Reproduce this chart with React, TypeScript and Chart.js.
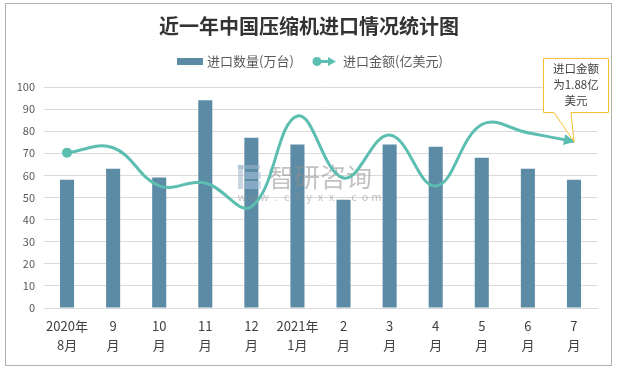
import React, { useEffect, useRef } from 'react';
import { Chart, registerables } from 'chart.js';

Chart.register(...registerables);

const titleText = '近一年中国压缩机进口情况统计图';
const seriesNames = ['进口数量(万台)', '进口金额(亿美元)'];
const categories: string[][] = [
  ['2020年', '8月'], ['9', '月'], ['10', '月'], ['11', '月'], ['12', '月'], ['2021年', '1月'],
  ['2', '月'], ['3', '月'], ['4', '月'], ['5', '月'], ['6', '月'], ['7', '月'],
];
const importQty = [58, 63, 59, 94, 77, 74, 49, 74, 73, 68, 63, 58];
const importValue = [70.3, 72.5, 55.3, 56.6, 45.8, 86.9, 58.8, 78.3, 55.2, 83, 79.3, 75.3];
const calloutLines = ['进口金额', '为1.88亿', '美元'];
const yMin = 0;
const yMax = 100;
const yStep = 10;

const FONT = '"Noto Sans CJK SC", "Noto Sans", sans-serif';
const BAR_COLOR = '#5b8ba5';
const LINE_COLOR = '#5cbdb1';

const customPlugin = {
  id: 'customDecor',
  beforeDraw(chart: any) {
    const ctx = chart.ctx;
    ctx.save();
    ctx.fillStyle = '#ffffff';
    ctx.fillRect(0, 0, chart.width, chart.height);
    ctx.strokeStyle = '#b0b0b0';
    ctx.lineWidth = 1;
    ctx.strokeRect(5.5, 3.5, 606, 362);
    // title
    ctx.fillStyle = '#333333';
    ctx.font = `bold 20px ${FONT}`;
    ctx.textAlign = 'center';
    ctx.textBaseline = 'middle';
    ctx.fillText(titleText, 309, 26);
    // legend
    ctx.font = `13px ${FONT}`;
    ctx.textAlign = 'left';
    ctx.fillStyle = BAR_COLOR;
    ctx.fillRect(177, 58, 26, 7);
    ctx.fillStyle = '#595959';
    ctx.fillText(seriesNames[0], 207, 61.5);
    ctx.strokeStyle = LINE_COLOR;
    ctx.lineWidth = 3;
    ctx.beginPath();
    ctx.moveTo(317, 61.5);
    ctx.lineTo(329, 61.5);
    ctx.stroke();
    ctx.fillStyle = LINE_COLOR;
    ctx.beginPath();
    ctx.arc(317, 61.5, 4.5, 0, Math.PI * 2);
    ctx.fill();
    ctx.beginPath();
    ctx.moveTo(336, 61.5);
    ctx.lineTo(328, 57);
    ctx.lineTo(328, 66);
    ctx.closePath();
    ctx.fill();
    ctx.fillStyle = '#595959';
    ctx.fillText(seriesNames[1], 343, 61.5);
    ctx.restore();
  },
  afterDatasetDraw(chart: any, args: any) {
    if (args.index !== 0) return;
    const ctx = chart.ctx;
    ctx.save();
    ctx.globalAlpha = 0.55;
    // logo
    ctx.fillStyle = '#9fb6cc';
    ctx.fillRect(238, 165, 22, 4);
    ctx.fillRect(238, 165, 5, 24);
    ctx.fillStyle = '#a9c4de';
    ctx.fillRect(245, 172, 16, 7);
    ctx.fillRect(245, 181, 16, 8);
    ctx.fillStyle = '#8f8f8f';
    ctx.font = `26px ${FONT}`;
    ctx.textAlign = 'left';
    ctx.textBaseline = 'middle';
    ctx.fillText('智研咨询', 268, 177);
    ctx.font = `11px ${FONT}`;
    ctx.textAlign = 'center';
    const url = 'www.chyxx.com';
    for (let i = 0; i < url.length; i++) {
      ctx.fillText(url[i], 242 + i * 11.2, 197);
    }
    ctx.restore();
  },
  afterDatasetsDraw(chart: any) {
    const meta = chart.getDatasetMeta(1);
    const pts = meta.data;
    if (!pts || pts.length < 2) return;
    const last = pts[pts.length - 1];
    const cx = last.cp1x ?? pts[pts.length - 2].x;
    const cy = last.cp1y ?? pts[pts.length - 2].y;
    let dx = last.x - cx;
    let dy = last.y - cy;
    const len = Math.hypot(dx, dy) || 1;
    dx /= len;
    dy /= len;
    const ctx = chart.ctx;
    ctx.save();
    ctx.fillStyle = LINE_COLOR;
    const tipX = last.x + dx * 1;
    const tipY = last.y + dy * 1;
    const bx = tipX - dx * 11;
    const by = tipY - dy * 11;
    ctx.beginPath();
    ctx.moveTo(tipX, tipY);
    ctx.lineTo(bx - dy * 5.5, by + dx * 5.5);
    ctx.lineTo(bx + dy * 5.5, by - dx * 5.5);
    ctx.closePath();
    ctx.fill();
    ctx.restore();
  },
  afterDraw(chart: any) {
    const meta = chart.getDatasetMeta(1);
    const last = meta.data[meta.data.length - 1];
    const ctx = chart.ctx;
    ctx.save();
    ctx.beginPath();
    ctx.moveTo(543.5, 58.5);
    ctx.lineTo(608.5, 58.5);
    ctx.lineTo(608.5, 112.5);
    ctx.lineTo(571, 112.5);
    ctx.lineTo(last.x, last.y);
    ctx.lineTo(554, 112.5);
    ctx.lineTo(543.5, 112.5);
    ctx.closePath();
    ctx.fillStyle = '#ffffff';
    ctx.fill();
    ctx.strokeStyle = '#f5c02e';
    ctx.lineWidth = 1;
    ctx.stroke();
    ctx.fillStyle = '#404040';
    ctx.font = `11.5px ${FONT}`;
    ctx.textAlign = 'center';
    ctx.textBaseline = 'middle';
    calloutLines.forEach((t, i) => ctx.fillText(t, 576, 69 + i * 16));
    ctx.restore();
  },
};

export default function App() {
  const ref = useRef<HTMLCanvasElement | null>(null);
  useEffect(() => {
    if (!ref.current) return;
    const chart = new Chart(ref.current, {
      type: 'bar',
      data: {
        labels: categories,
        datasets: [
          {
            type: 'bar',
            label: seriesNames[0],
            data: importQty,
            backgroundColor: BAR_COLOR,
            barPercentage: 0.305,
            categoryPercentage: 1,
            order: 1,
          },
          {
            type: 'line',
            label: seriesNames[1],
            data: importValue,
            borderColor: LINE_COLOR,
            backgroundColor: LINE_COLOR,
            borderWidth: 3,
            tension: 0.4,
            pointRadius: importValue.map((_, i) => (i === 0 ? 5 : 0)),
            pointBackgroundColor: LINE_COLOR,
            pointBorderWidth: 0,
            fill: false,
            order: 0,
          } as any,
        ],
      },
      options: {
        responsive: false,
        animation: false,
        devicePixelRatio: 1,
        layout: { padding: { left: 0, right: 20, top: 87, bottom: 0 } },
        plugins: {
          legend: { display: false },
          title: { display: false },
          tooltip: { enabled: false },
        },
        scales: {
          x: {
            grid: { display: false, drawTicks: false },
            border: { display: true, color: '#d9d9d9' },
            ticks: {
              color: '#404040',
              font: { family: FONT, size: 13, lineHeight: 1.45 },
              padding: 9,
              maxRotation: 0,
              autoSkip: false,
            },
            afterFit: (s: any) => {
              s.height = 60;
            },
          },
          y: {
            min: yMin,
            max: yMax,
            grid: { color: '#d9d9d9', drawTicks: false },
            border: { display: false },
            ticks: {
              stepSize: yStep,
              color: '#595959',
              font: { family: FONT, size: 11 },
              padding: 9,
            },
            afterFit: (s: any) => {
              s.width = 44;
            },
          },
        },
      },
      plugins: [customPlugin],
    });
    return () => chart.destroy();
  }, []);
  return (
    <div style={{ position: 'fixed', left: 0, top: 0, width: 617, height: 368 }}>
      <canvas ref={ref} width={617} height={368} />
    </div>
  );
}
